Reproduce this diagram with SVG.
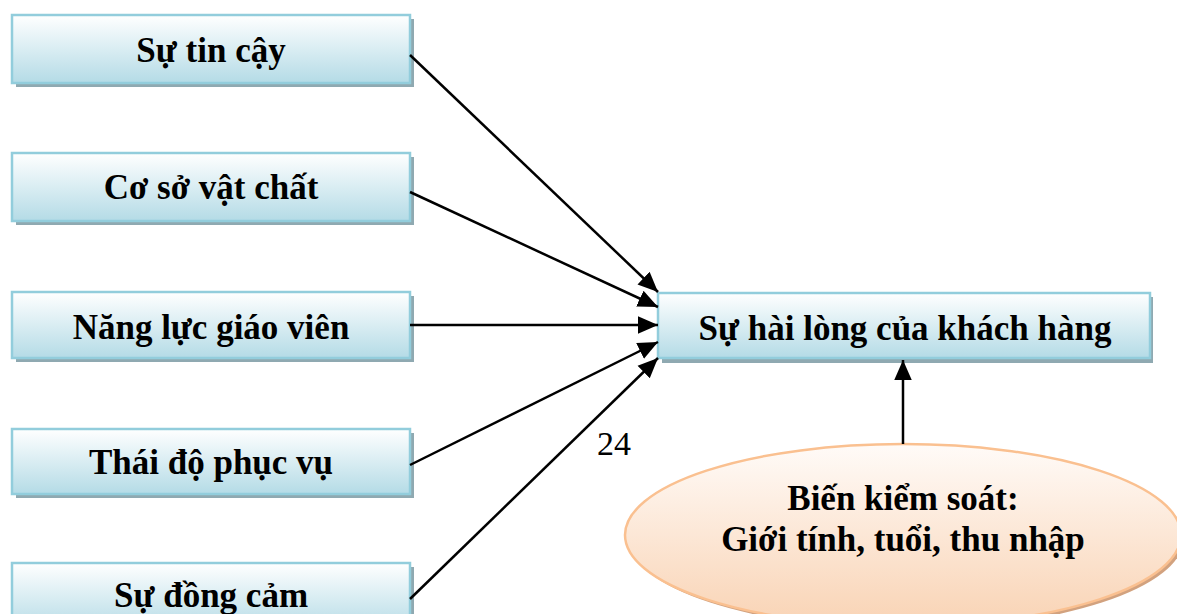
<svg xmlns="http://www.w3.org/2000/svg" width="1177" height="614" viewBox="0 0 1177 614">
<style>
.box{fill:url(#gBlue);stroke:#92cddc;stroke-width:2.5}
.bsh{fill:#8fa9b1}
.t{font-family:'Liberation Serif','Times New Roman',serif;font-weight:bold;font-size:35px;fill:#000;text-anchor:middle}
.n{font-family:'Liberation Serif','Times New Roman',serif;font-size:34px;fill:#000}
.c{stroke:#000;stroke-width:2.5;fill:none;marker-end:url(#ah)}
</style>
<defs>
<linearGradient id="gBlue" x1="0" y1="0" x2="0" y2="1">
<stop offset="0" stop-color="#ffffff"/>
<stop offset="1" stop-color="#b4dbe6"/>
</linearGradient>
<linearGradient id="gPeach" x1="0" y1="0" x2="0" y2="1">
<stop offset="0" stop-color="#fffbf8"/>
<stop offset="1" stop-color="#f9d3b4"/>
</linearGradient>
<marker id="ah" markerUnits="userSpaceOnUse" markerWidth="20" markerHeight="20" viewBox="0 0 16 14" refX="16" refY="7" orient="auto">
<path d="M0,0 L16,7 L0,14 Z" fill="#000"/>
</marker>
</defs>
<rect width="1177" height="614" fill="#fff"/>
<g id="n1"><rect class="bsh" x="16" y="19" width="398" height="68"/><rect class="box" x="12" y="15" width="398" height="68"/><text class="t" x="211" y="62">Sự tin cậy</text></g>
<g id="n2"><rect class="bsh" x="16" y="157" width="398" height="68"/><rect class="box" x="12" y="153" width="398" height="68"/><text class="t" x="211" y="199">Cơ sở vật chất</text></g>
<g id="n3"><rect class="bsh" x="16" y="296" width="398" height="66"/><rect class="box" x="12" y="292" width="398" height="66"/><text class="t" x="211" y="339">Năng lực giáo viên</text></g>
<g id="n4"><rect class="bsh" x="16" y="433" width="398" height="65"/><rect class="box" x="12" y="429" width="398" height="65"/><text class="t" x="211" y="474">Thái độ phục vụ</text></g>
<g id="n5"><rect class="bsh" x="16" y="567" width="398" height="68"/><rect class="box" x="12" y="563" width="398" height="68"/><text class="t" x="211" y="607">Sự đồng cảm</text></g>
<g id="target"><rect class="bsh" x="662" y="297" width="491" height="66"/><rect class="box" x="658" y="293" width="492" height="65"/><text class="t" x="905" y="340">Sự hài lòng của khách hàng</text></g>
<g id="control"><ellipse cx="906" cy="538" rx="278" ry="91" fill="#d2a27f"/><ellipse cx="903" cy="535" rx="278" ry="91" fill="url(#gPeach)" stroke="#fac090" stroke-width="2.5"/><text class="t" x="903" y="510">Biến kiểm soát:</text><text class="t" x="903" y="551">Giới tính, tuổi, thu nhập</text></g>
<g id="connectors">
<line class="c" x1="410" y1="55" x2="658" y2="292"/>
<line class="c" x1="410" y1="192" x2="658" y2="307"/>
<line class="c" x1="410" y1="325" x2="658" y2="325"/>
<line class="c" x1="410" y1="465" x2="658" y2="342"/>
<line class="c" x1="410" y1="599" x2="658" y2="358"/>
<line class="c" x1="903" y1="444" x2="903" y2="360"/>
</g>
<text class="n" x="597" y="455">24</text>
</svg>
